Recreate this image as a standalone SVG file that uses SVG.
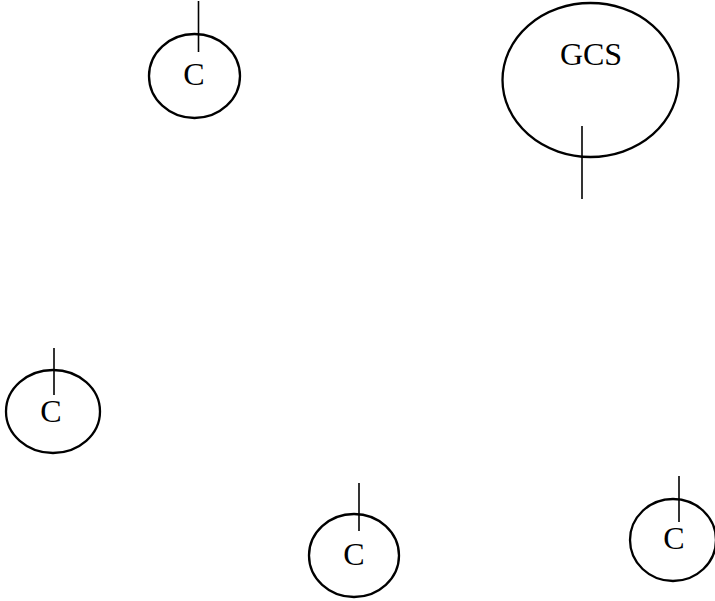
<svg xmlns="http://www.w3.org/2000/svg" width="715" height="601" viewBox="0 0 715 601">
<style>
.n{fill:none;stroke:#000;stroke-width:2.3}
.t{font-family:"Liberation Serif","Times New Roman",serif;font-size:32px;fill:#000;text-anchor:middle}
.c{stroke:#000;stroke-width:1.6}
</style>
<rect width="715" height="601" fill="#fff"/>
<g id="node-c1"><ellipse class="n" cx="194.5" cy="76" rx="45.5" ry="42"/><text class="t" x="194" y="85">C</text></g>
<g id="node-gcs"><ellipse class="n" cx="590.5" cy="80" rx="88" ry="77"/><text class="t" x="591" y="65">GCS</text></g>
<g id="node-c2"><ellipse class="n" cx="53" cy="411.5" rx="47" ry="41.5"/><text class="t" x="51" y="422">C</text></g>
<g id="node-c3"><ellipse class="n" cx="354" cy="555.5" rx="45" ry="41.5"/><text class="t" x="354" y="565">C</text></g>
<g id="node-c4"><ellipse class="n" cx="673" cy="540" rx="43" ry="41"/><text class="t" x="674" y="549">C</text></g>
<g id="connectors">
<line class="c" x1="198.5" y1="1" x2="198.5" y2="52"/>
<line class="c" x1="582" y1="126" x2="582" y2="199"/>
<line class="c" x1="54" y1="348" x2="54" y2="395"/>
<line class="c" x1="359" y1="483" x2="359" y2="531"/>
<line class="c" x1="679" y1="476" x2="679" y2="522"/>
</g>
</svg>
